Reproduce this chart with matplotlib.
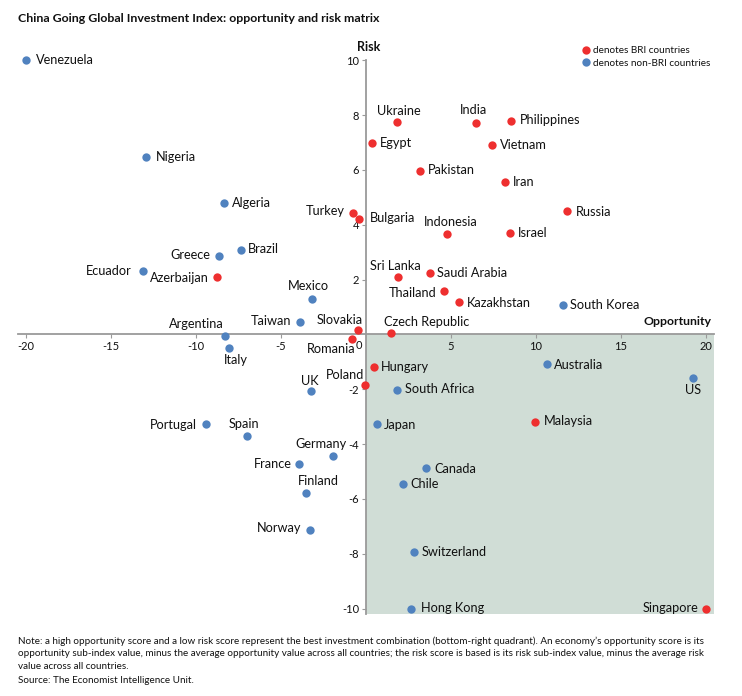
import matplotlib
matplotlib.use("Agg")
import matplotlib.pyplot as plt

plt.rcParams['font.family'] = ['Lato', 'DejaVu Sans']

W, H = 742, 696

# BRI countries
bri_names = ["Ukraine", "India", "Philippines", "Egypt", "Vietnam", "Pakistan", "Iran", "Russia",
             "Turkey", "Bulgaria", "Indonesia", "Israel", "Sri Lanka", "Saudi Arabia", "Thailand",
             "Kazakhstan", "Azerbaijan", "Slovakia", "Romania", "Czech Republic", "Hungary", "Poland",
             "Malaysia", "Singapore"]
bri_opportunity = [1.82, 6.47, 8.53, 0.35, 7.41, 3.18, 8.18, 11.82, -0.76, -0.41, 4.76, 8.47, 1.88, 3.76,
                   4.59, 5.47, -8.76, -0.45, -0.82, 1.47, 0.47, -0.06, 9.94, 20]
bri_risk = [7.74, 7.70, 7.77, 7.0, 6.93, 5.98, 5.58, 4.49, 4.42, 4.23, 3.65, 3.69, 2.08, 2.26, 1.6, 1.2,
            2.08, 0.16, -0.15, 0.04, -1.17, -1.86, -3.2, -10]

# non-BRI countries
other_names = ["Venezuela", "Nigeria", "Algeria", "Brazil", "Greece", "Ecuador", "Mexico", "Taiwan",
               "Argentina", "Italy", "UK", "South Korea", "Australia", "US", "South Africa", "Japan",
               "Portugal", "Spain", "Germany", "France", "Canada", "Chile", "Finland", "Norway",
               "Switzerland", "Hong Kong"]
other_opportunity = [-20, -12.94, -8.35, -7.35, -8.65, -13.12, -3.18, -3.88, -8.29, -8.06, -3.24, 11.59,
                     10.65, 19.24, 1.82, 0.65, -9.41, -7, -1.94, -3.94, 3.53, 2.18, -3.53, -3.29, 2.82, 2.65]
other_risk = [10, 6.46, 4.78, 3.07, 2.88, 2.3, 1.31, 0.44, -0.07, -0.51, -2.08, 1.06, -1.09, -1.6, -2.04,
              -3.25, -3.25, -3.69, -4.42, -4.71, -4.89, -5.47, -5.77, -7.12, -7.92, -10]

x_ticks = [-20, -15, -10, -5, 5, 10, 15, 20]
y_ticks = [-10, -8, -6, -4, -2, 2, 4, 6, 8, 10]

# decalage des etiquettes en pixels : (dx, dy, alignement)
label_pos = {
    "Ukraine": (2, 11, 'center'), "India": (-2, 13, 'center'), "Philippines": (9, 1, 'left'),
    "Egypt": (8, 0, 'left'), "Vietnam": (8, 0, 'left'), "Pakistan": (8, 1, 'left'), "Iran": (8, 0, 'left'),
    "Russia": (9, -1, 'left'), "Turkey": (-8, 2, 'right'), "Bulgaria": (11, 1, 'left'),
    "Indonesia": (4, 12, 'center'), "Israel": (8, 0, 'left'), "Sri Lanka": (-3, 11, 'center'),
    "Saudi Arabia": (7, 0, 'left'), "Thailand": (-8, -2, 'right'), "Kazakhstan": (8, -1, 'left'),
    "Azerbaijan": (-8, -1, 'right'), "Slovakia": (4, 10, 'right'), "Romania": (3, -10, 'right'),
    "Czech Republic": (-7, 11, 'left'), "Hungary": (7, 0, 'left'), "Poland": (-1, 10, 'right'),
    "Malaysia": (9, 1, 'left'), "Singapore": (-8, 1, 'right'),
    "Venezuela": (10, 0, 'left'), "Nigeria": (10, 0, 'left'), "Algeria": (8, 0, 'left'),
    "Brazil": (7, 1, 'left'), "Greece": (-9, 1, 'right'), "Ecuador": (-11, 0, 'right'),
    "Mexico": (-4, 13, 'center'), "Taiwan": (-9, 1, 'right'), "Argentina": (-1, 12, 'right'),
    "Italy": (7, -12, 'center'), "UK": (-1, 10, 'center'), "South Korea": (7, 0, 'left'),
    "Australia": (7, -1, 'left'), "US": (0, -12, 'center'), "South Africa": (8, 1, 'left'),
    "Japan": (7, -1, 'left'), "Portugal": (-9, -1, 'right'), "Spain": (-3, 12, 'center'),
    "Germany": (-12, 12, 'center'), "France": (-7, 0, 'right'), "Canada": (8, -1, 'left'),
    "Chile": (7, 0, 'left'), "Finland": (12, 12, 'center'), "Norway": (-9, 2, 'right'),
    "Switzerland": (8, 0, 'left'), "Hong Kong": (10, 1, 'left'),
}

RED = '#ee2f2f'
BLUE = '#5082bf'
GREY = '#9a9a9a'
INK = '#111111'

fig = plt.figure(figsize=(W / 100, H / 100), dpi=100)
ax = fig.add_axes([18 / W, 1 - 614 / H, (714 - 18) / W, (614 - 59) / H])
ax.set_xlim(-20.47, 20.47)
ax.set_ylim(-10.2, 10.05)
ax.patch.set_visible(False)

# quadrant bas-droite
ax.axvspan(0, 20.47, ymin=0, ymax=10.2 / 20.25, color='#d0ddd6', lw=0, zorder=0)

for s in ['top', 'right']:
    ax.spines[s].set_visible(False)
for s in ['left', 'bottom']:
    ax.spines[s].set_position(('data', 0))
    ax.spines[s].set_color(GREY)
    ax.spines[s].set_linewidth(1.3)
ax.spines['left'].set_bounds(-10.2, 10)

ax.set_xticks(x_ticks)
ax.set_yticks(y_ticks)
ax.set_xticklabels([str(v) for v in x_ticks])
ax.set_yticklabels([str(v) for v in y_ticks])
ax.tick_params(axis='both', length=3, width=0.8, color=GREY, labelsize=8, labelcolor=INK, pad=2)
ax.annotate("0", (0, 0), xytext=(-4, -6), textcoords='offset pixels', ha='right', va='top',
            fontsize=8, color=INK)

ax.scatter(other_opportunity, other_risk, s=36, color=BLUE, lw=0, zorder=3, clip_on=False)
ax.scatter(bri_opportunity, bri_risk, s=36, color=RED, lw=0, zorder=4, clip_on=False)

for names_, xs, ys in [(bri_names, bri_opportunity, bri_risk), (other_names, other_opportunity, other_risk)]:
    for n, x, y in zip(names_, xs, ys):
        dx, dy, ha = label_pos[n]
        # ligne de base : 4 px sous le centre du texte
        ax.annotate(n, (x, y), xytext=(dx, dy - 4), textcoords='offset pixels', ha=ha, va='baseline',
                    fontsize=9.2, color=INK, zorder=5)


def fig_text(px, py, s, **kw):
    fig.text(px / W, 1 - py / H, s, color=INK, va='baseline', **kw)


fig_text(18, 22, "China Going Global Investment Index: opportunity and risk matrix",
         fontsize=8.9, fontweight='bold')
fig_text(369, 51, "Risk", fontsize=9, fontweight='bold', ha='center')
fig_text(711, 325, "Opportunity", fontsize=8.8, fontweight='bold', ha='right')

# legende
fig.add_artist(plt.Line2D([586 / W], [1 - 50 / H], marker='o', ms=6, color=RED, mew=0, ls=''))
fig.add_artist(plt.Line2D([586 / W], [1 - 62 / H], marker='o', ms=6, color=BLUE, mew=0, ls=''))
fig_text(593, 53, "denotes BRI countries", fontsize=7.2)
fig_text(593, 66, "denotes non-BRI countries", fontsize=7.2)

notes = ["Note: a high opportunity score and a low risk score represent the best investment combination (bottom-right quadrant). An economy\u2019s opportunity score is its",
         "opportunity sub-index value, minus the average opportunity value across all countries; the risk score is based is its risk sub-index value, minus the average risk",
         "value across all countries.",
         "Source: The Economist Intelligence Unit."]
for py, line in zip([644, 656, 669, 683], notes):
    fig_text(18, py, line, fontsize=7.1)

fig.savefig("out.png", dpi=100)
